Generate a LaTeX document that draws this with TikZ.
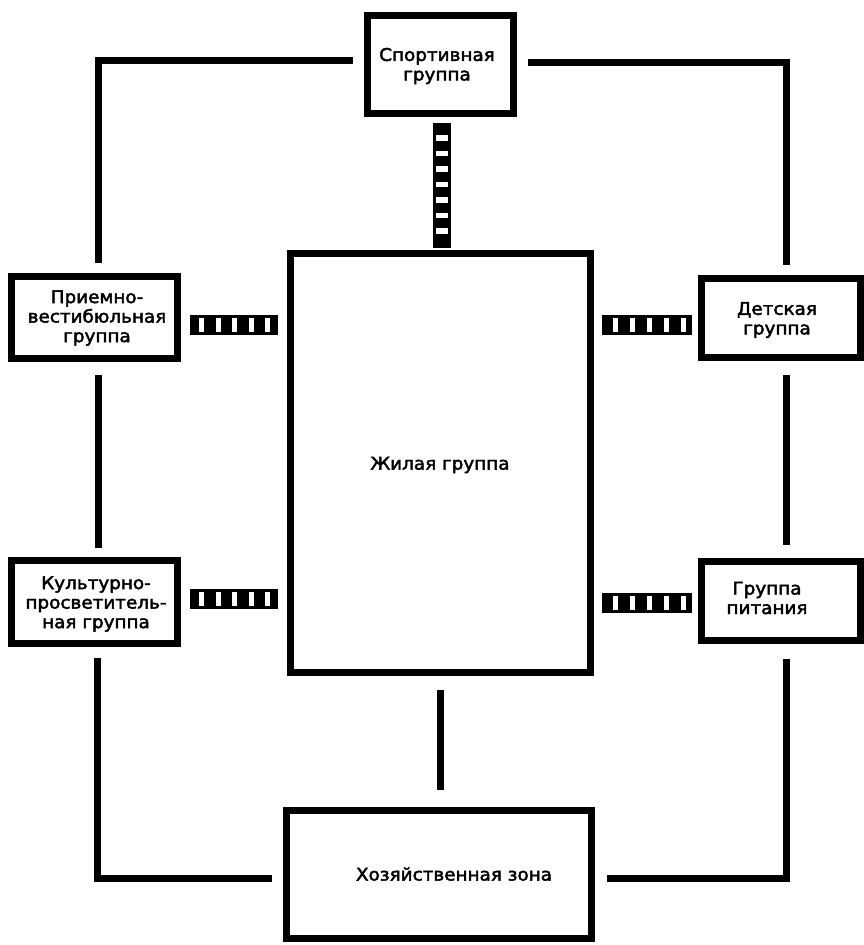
\documentclass[tikz,border=0pt]{standalone}
\usepackage{fontspec}
\setmainfont{DejaVu Sans}[FakeStretch=1.05, FakeBold=2.5]
\usetikzlibrary{calc}
\begin{document}
\begin{tikzpicture}[x=1pt,y=-1pt,
  box/.style={draw, line width=7pt, rectangle, inner sep=0pt},
  conn/.style={line width=7pt},
  lbl/.style={align=center, font=\fontsize{17.5}{19.5}\selectfont, inner sep=0pt},
  ladderh/.style={line width=20pt},
  winh/.style={draw=white, line width=14pt},
  ladderv/.style={line width=18pt},
  winv/.style={draw=white, line width=12pt}]
\useasboundingbox[fill=white] (0,0) rectangle (864,945);

% boxes
\node[box, minimum width=146pt, minimum height=98pt]  (sport) at (440.5,64.5) {};
\node[box, minimum width=166pt, minimum height=82pt]  (priem) at (94.5,317.5) {};
\node[box, minimum width=159pt, minimum height=79pt]  (det)   at (781,318) {};
\node[box, minimum width=166pt, minimum height=83pt]  (kult)  at (94.5,602) {};
\node[box, minimum width=159pt, minimum height=79pt]  (pit)   at (781,601) {};
\node[box, minimum width=300pt, minimum height=419pt] (zhil)  at (440.5,463) {};
\node[box, minimum width=305pt, minimum height=128pt] (hoz)   at (439,874.5) {};

% labels
\node[lbl] (tsport) at (437,66) {Спортивная\\группа};
\node[lbl] (tpriem) at (97,318) {Приемно-\\вестибюльная\\группа};
\node[lbl] (tdet)   at (777,320) {Детская\\группа};
\node[lbl] (tkult)  at (96,604) {Культурно-\\просветитель-\\ная группа};
\node[lbl] (tpit)   at (767,598) {Группа\\питания};
\node[lbl] (tzhil)  at (440,465) {Жилая группа};
\node[lbl] (thoz)   at (454,874) {Хозяйственная зона};

% plain connectors
\draw[conn, shorten <=11pt, shorten >=10pt] ($(sport.west)+(0,-4.5)$) -| ($(priem.north)+(3.5,0)$);
\draw[conn, shorten <=11pt, shorten >=10pt] ($(sport.east)+(0,-2.5)$) -| ($(det.north)+(5,0)$);
\draw[conn, shorten <=13pt, shorten >=9pt] ($(priem.south)+(3.5,0)$) -- ($(kult.north)+(3.5,0)$);
\draw[conn, shorten <=14pt, shorten >=13pt] ($(det.south)+(5,0)$) -- ($(pit.north)+(5,0)$);
\draw[conn, shorten <=11pt, shorten >=11pt] ($(kult.south)+(2.5,0)$) |- ($(hoz.west)+(0,3.5)$);
\draw[conn, shorten <=15pt, shorten >=12pt] ($(pit.south)+(5,0)$) |- ($(hoz.east)+(0,3.5)$);
\draw[conn, shorten <=14pt, shorten >=17pt] (zhil.south) -- (zhil.south |- hoz.north);

% ladder connectors
\coordinate (t1) at ($(sport.south)+(1.5,0)$);
\draw[ladderv, shorten <=6pt, shorten >=2pt] (t1) -- (t1 |- zhil.north);
\draw[winv, shorten <=18pt, shorten >=16.5pt, dash pattern=on 5.5pt off 10pt] (t1) -- (t1 |- zhil.north);

\coordinate (l1) at ($(priem.east)+(0,7.5)$);
\draw[ladderh, shorten <=9pt, shorten >=9pt] (l1) -- (l1 -| zhil.west);
\draw[winh, shorten <=18pt, shorten >=17pt, dash pattern=on 5pt off 11.5pt] (l1) -- (l1 -| zhil.west);

\coordinate (l2) at ($(kult.east)+(0,-3)$);
\draw[ladderh, shorten <=9pt, shorten >=9pt] (l2) -- (l2 -| zhil.west);
\draw[winh, shorten <=18pt, shorten >=17pt, dash pattern=on 5pt off 11.5pt] (l2) -- (l2 -| zhil.west);

\coordinate (r1) at ($(det.west)+(0,7)$);
\draw[ladderh, shorten <=8pt, shorten >=6pt] (r1 -| zhil.east) -- (r1);
\draw[winh, shorten <=19pt, shorten >=12pt, dash pattern=on 5pt off 12pt] (r1 -| zhil.east) -- (r1);

\coordinate (r2) at ($(pit.west)+(0,2)$);
\draw[ladderh, shorten <=8pt, shorten >=6pt] (r2 -| zhil.east) -- (r2);
\draw[winh, shorten <=19pt, shorten >=12pt, dash pattern=on 5pt off 12pt] (r2 -| zhil.east) -- (r2);
\end{tikzpicture}
\end{document}
